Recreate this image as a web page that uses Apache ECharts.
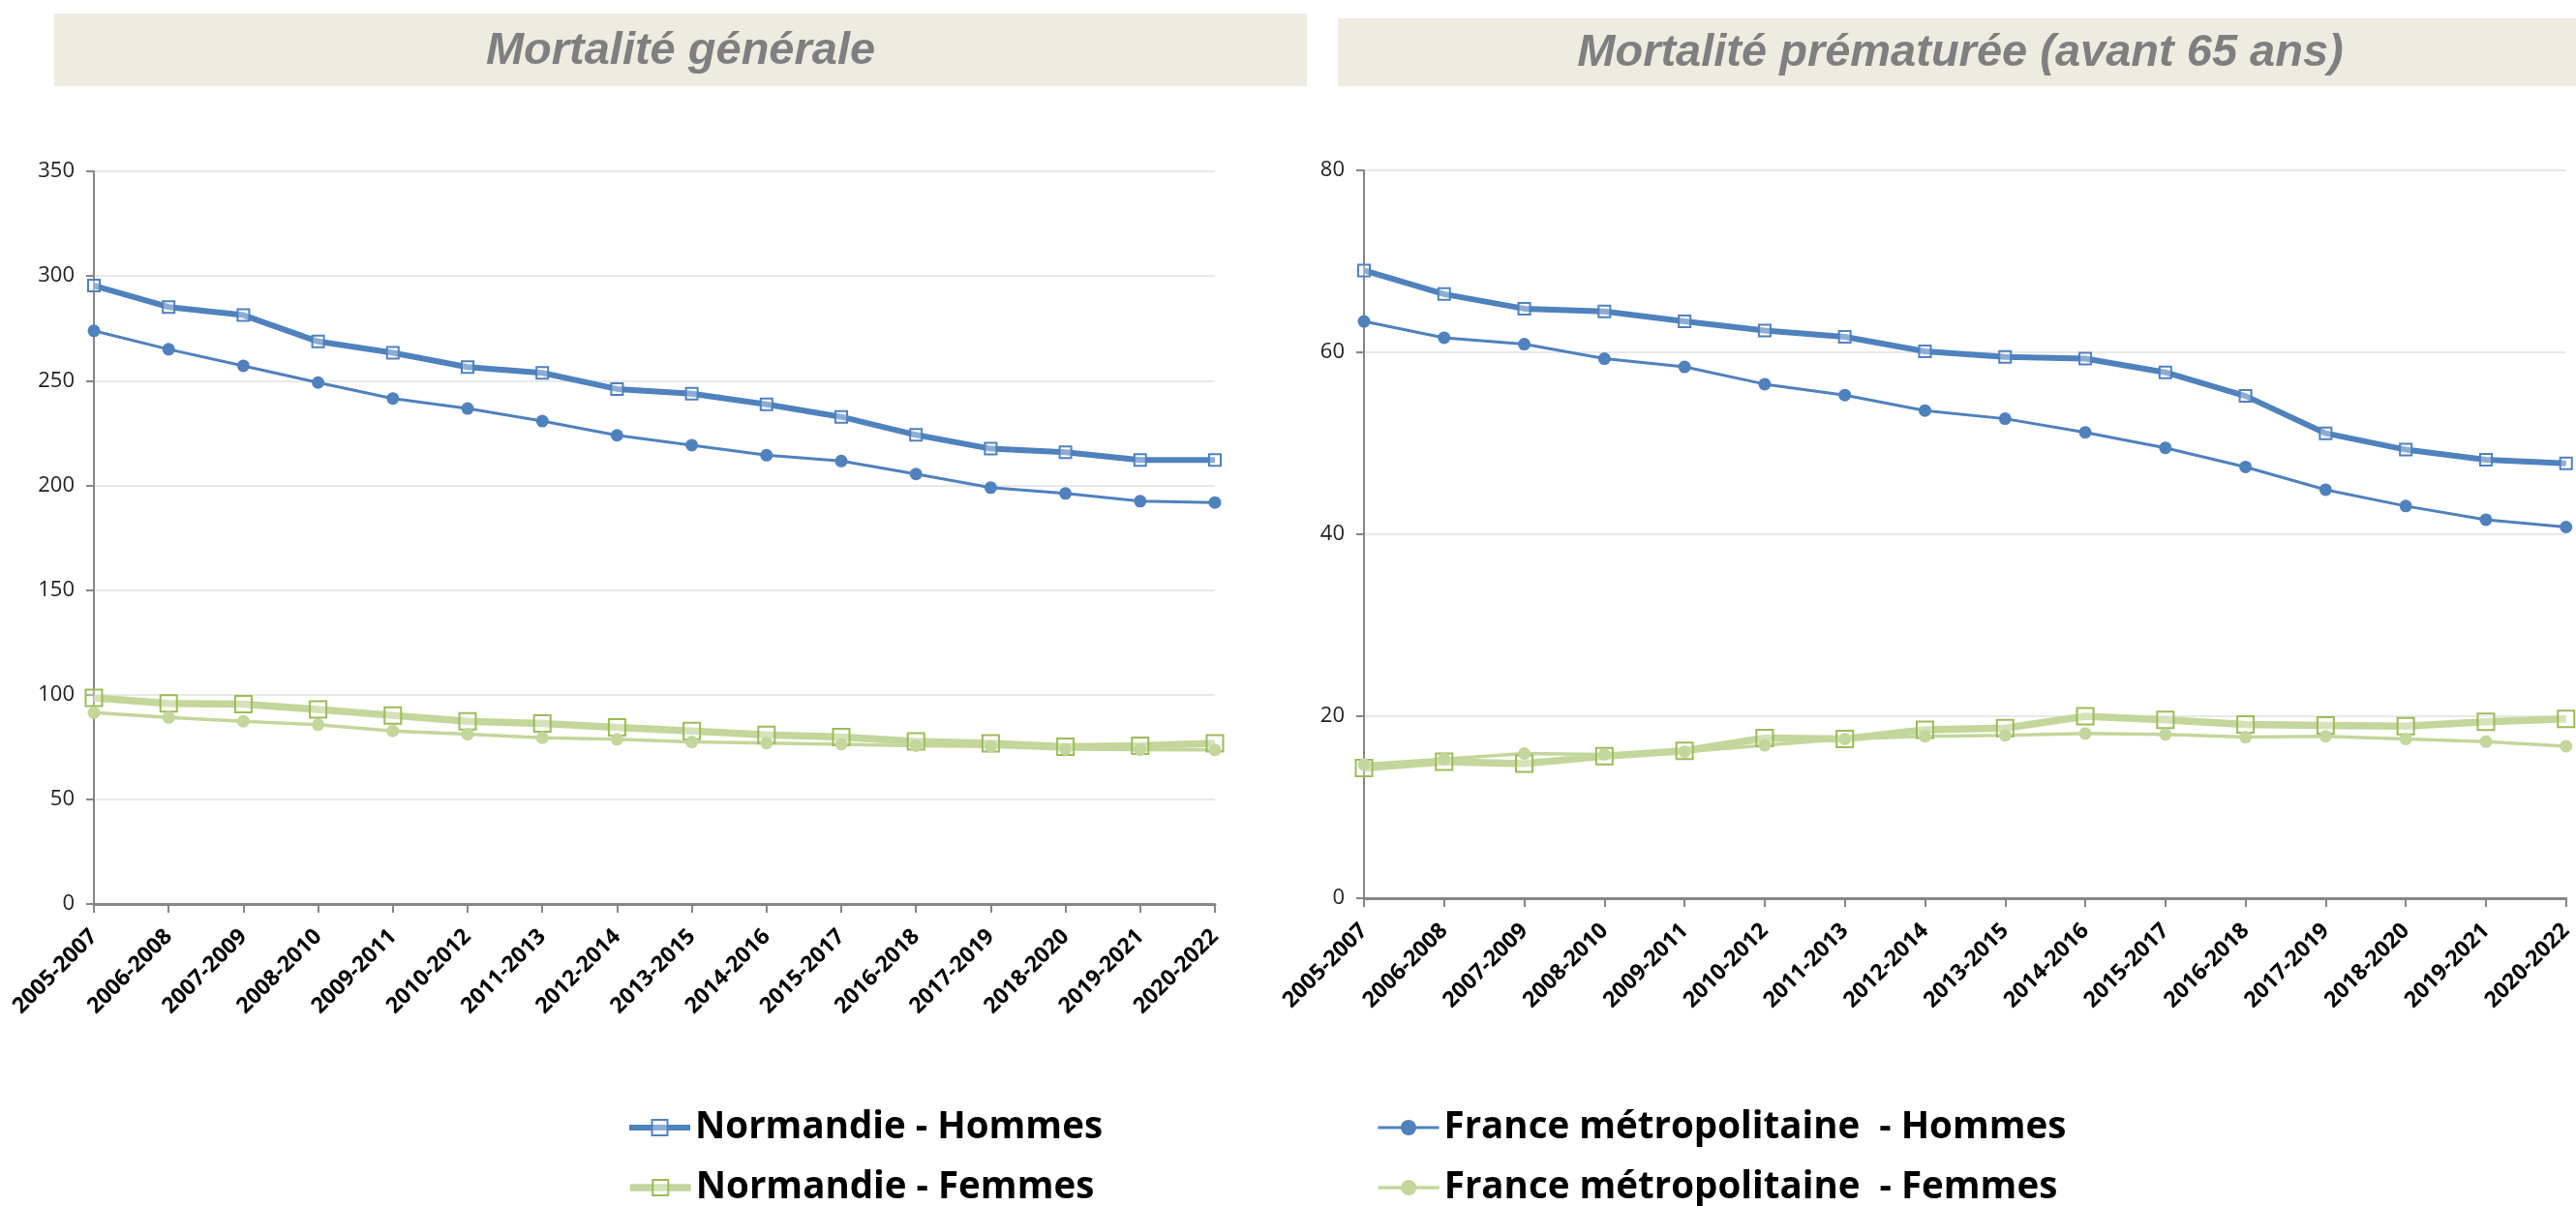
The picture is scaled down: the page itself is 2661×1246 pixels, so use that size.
<!DOCTYPE html>
<html>
<head>
<meta charset="utf-8">
<script src="https://cdn.jsdelivr.net/npm/echarts@6/dist/echarts.min.js"></script>
<style>
html,body{margin:0;padding:0;background:#fff;}
#chart{width:2661px;height:1246px;}
</style>
</head>
<body>
<div id="chart"></div>
<script>
const categories = ['2005-2007','2006-2008','2007-2009','2008-2010','2009-2011','2010-2012','2011-2013','2012-2014','2013-2015','2014-2016','2015-2017','2016-2018','2017-2019','2018-2020','2019-2021','2020-2022'];

const titleGeneral = 'Mortalité générale';
const titlePremature = 'Mortalité prématurée (avant 65 ans)';

const nameNormH = 'Normandie - Hommes';
const nameNormF = 'Normandie - Femmes';
const nameFrH = 'France métropolitaine  - Hommes';
const nameFrF = 'France métropolitaine  - Femmes';

const generalNormandieH = [295.4, 285.2, 281.3, 268.7, 263.3, 256.5, 253.7, 246.0, 243.8, 238.7, 232.7, 224.1, 217.5, 215.8, 212.1, 212.1];
const generalFranceH    = [273.8, 265.0, 257.1, 249.1, 241.5, 236.7, 230.7, 223.9, 219.2, 214.4, 211.6, 205.4, 198.9, 196.1, 192.4, 191.8];
const generalNormandieF = [98.5, 95.8, 95.5, 92.9, 90.1, 87.3, 86.2, 84.4, 82.7, 80.8, 79.8, 77.7, 76.7, 75.1, 75.6, 76.7];
const generalFranceF    = [91.4, 89.1, 87.3, 85.6, 82.7, 81.1, 79.4, 78.7, 77.4, 76.9, 76.3, 75.6, 75.3, 74.0, 73.7, 73.6];

const prematureNormandieH = [69.0, 66.4, 64.8, 64.5, 63.4, 62.4, 61.7, 60.1, 59.5, 59.3, 57.8, 55.2, 51.1, 49.3, 48.2, 47.8];
const prematureFranceH    = [63.4, 61.6, 60.9, 59.3, 58.4, 56.5, 55.3, 53.6, 52.7, 51.2, 49.5, 47.4, 44.9, 43.1, 41.6, 40.8];
const prematureNormandieF = [14.3, 15.0, 14.8, 15.6, 16.2, 17.6, 17.5, 18.5, 18.7, 20.0, 19.6, 19.1, 19.0, 18.9, 19.4, 19.7];
const prematureFranceF    = [14.7, 15.3, 15.9, 15.8, 16.1, 16.8, 17.5, 17.8, 17.9, 18.1, 18.0, 17.7, 17.8, 17.5, 17.2, 16.7];

const BLUE = '#4f81bd';
const GREEN_LIGHT = '#c3d69b';
const GREEN_DARK = '#9bbb59';
const AXIS = '#868686';
const FONT = '"Open Sans", Lato, sans-serif';

function makeSeries(idx, normH, frH, normF, frF) {
  return [
    {
      name: nameNormH, type: 'line', xAxisIndex: idx, yAxisIndex: idx, data: normH,
      symbol: 'rect', symbolSize: 12, z: 4,
      lineStyle: { color: BLUE, width: 6 },
      itemStyle: { color: 'rgba(255,255,255,0.35)', borderColor: BLUE, borderWidth: 2 }
    },
    {
      name: nameFrH, type: 'line', xAxisIndex: idx, yAxisIndex: idx, data: frH,
      symbol: 'circle', symbolSize: 13, z: 3,
      lineStyle: { color: BLUE, width: 3 },
      itemStyle: { color: BLUE, borderWidth: 0 }
    },
    {
      name: nameNormF, type: 'line', xAxisIndex: idx, yAxisIndex: idx, data: normF,
      symbol: 'rect', symbolSize: 17, z: 2,
      lineStyle: { color: GREEN_LIGHT, width: 7.5 },
      itemStyle: { color: 'rgba(255,255,255,0.3)', borderColor: GREEN_DARK, borderWidth: 2 }
    },
    {
      name: nameFrF, type: 'line', xAxisIndex: idx, yAxisIndex: idx, data: frF,
      symbol: 'circle', symbolSize: 13, z: 2,
      lineStyle: { color: GREEN_LIGHT, width: 3.5 },
      itemStyle: { color: GREEN_LIGHT, borderWidth: 0 }
    }
  ];
}

function xAxisDef(idx) {
  return {
    type: 'category', gridIndex: idx, data: categories, boundaryGap: false,
    axisLine: { lineStyle: { color: AXIS, width: 3 } },
    axisTick: { show: true, length: 9, lineStyle: { color: AXIS, width: 2 } },
    axisLabel: {
      rotate: 45, interval: 0, margin: 30,
      fontFamily: FONT, fontWeight: 'bold', fontSize: 23, color: '#000'
    },
    splitLine: { show: false }
  };
}

function yAxisDef(idx, max, interval) {
  return {
    type: 'value', gridIndex: idx, min: 0, max: max, interval: interval,
    axisLine: { show: true, lineStyle: { color: AXIS, width: 2 } },
    axisTick: { show: true, length: 8, lineStyle: { color: AXIS, width: 2 } },
    axisLabel: { margin: 20, fontFamily: FONT, fontSize: 22, color: '#222' },
    splitLine: { show: true, lineStyle: { color: '#e8e8e8', width: 2 } }
  };
}

const legendText = { fontFamily: FONT, fontWeight: 'bold', fontSize: 38.5, color: '#000', lineHeight: 40 };

function legendDef(name, left, top, lineWidth) {
  return {
    data: [name], orient: 'horizontal', left: left, top: top,
    itemWidth: 63, itemHeight: 20, itemGap: 0, padding: 0, textStyle: legendText,
    lineStyle: { width: lineWidth }
  };
}

const option = {
  backgroundColor: '#fff',
  animation: false,
  grid: [
    { left: 97, top: 177, width: 1158, height: 757, containLabel: false },
    { left: 1409, top: 176, width: 1245, height: 752, containLabel: false }
  ],
  xAxis: [xAxisDef(0), xAxisDef(1)],
  yAxis: [yAxisDef(0, 350, 50), yAxisDef(1, 80, 20)],
  legend: [
    legendDef(nameNormH, 647, 1145, 6),
    legendDef(nameNormF, 647, 1207, 7.5),
    legendDef(nameFrH, 1422, 1145, 3),
    legendDef(nameFrF, 1422, 1207, 3.5)
  ],
  graphic: [
    { type: 'rect', silent: true, z: -1, shape: { x: 56, y: 14, width: 1294, height: 75 }, style: { fill: '#eeece1' } },
    { type: 'rect', silent: true, z: -1, shape: { x: 1382, y: 19, width: 1279, height: 70 }, style: { fill: '#eeece1' } },
    { type: 'text', silent: true, x: 703, y: 53, style: { text: titleGeneral, fill: '#7f7f7f', font: 'italic bold 47px "Liberation Sans", Arial, sans-serif', textAlign: 'center', textVerticalAlign: 'middle' } },
    { type: 'text', silent: true, x: 2025, y: 55, style: { text: titlePremature, fill: '#7f7f7f', font: 'italic bold 47px "Liberation Sans", Arial, sans-serif', textAlign: 'center', textVerticalAlign: 'middle' } }
  ],
  series: [].concat(
    makeSeries(0, generalNormandieH, generalFranceH, generalNormandieF, generalFranceF),
    makeSeries(1, prematureNormandieH, prematureFranceH, prematureNormandieF, prematureFranceF)
  )
};

const chart = echarts.init(document.getElementById('chart'), null, { renderer: 'canvas' });
chart.setOption(option);
</script>
</body>
</html>
